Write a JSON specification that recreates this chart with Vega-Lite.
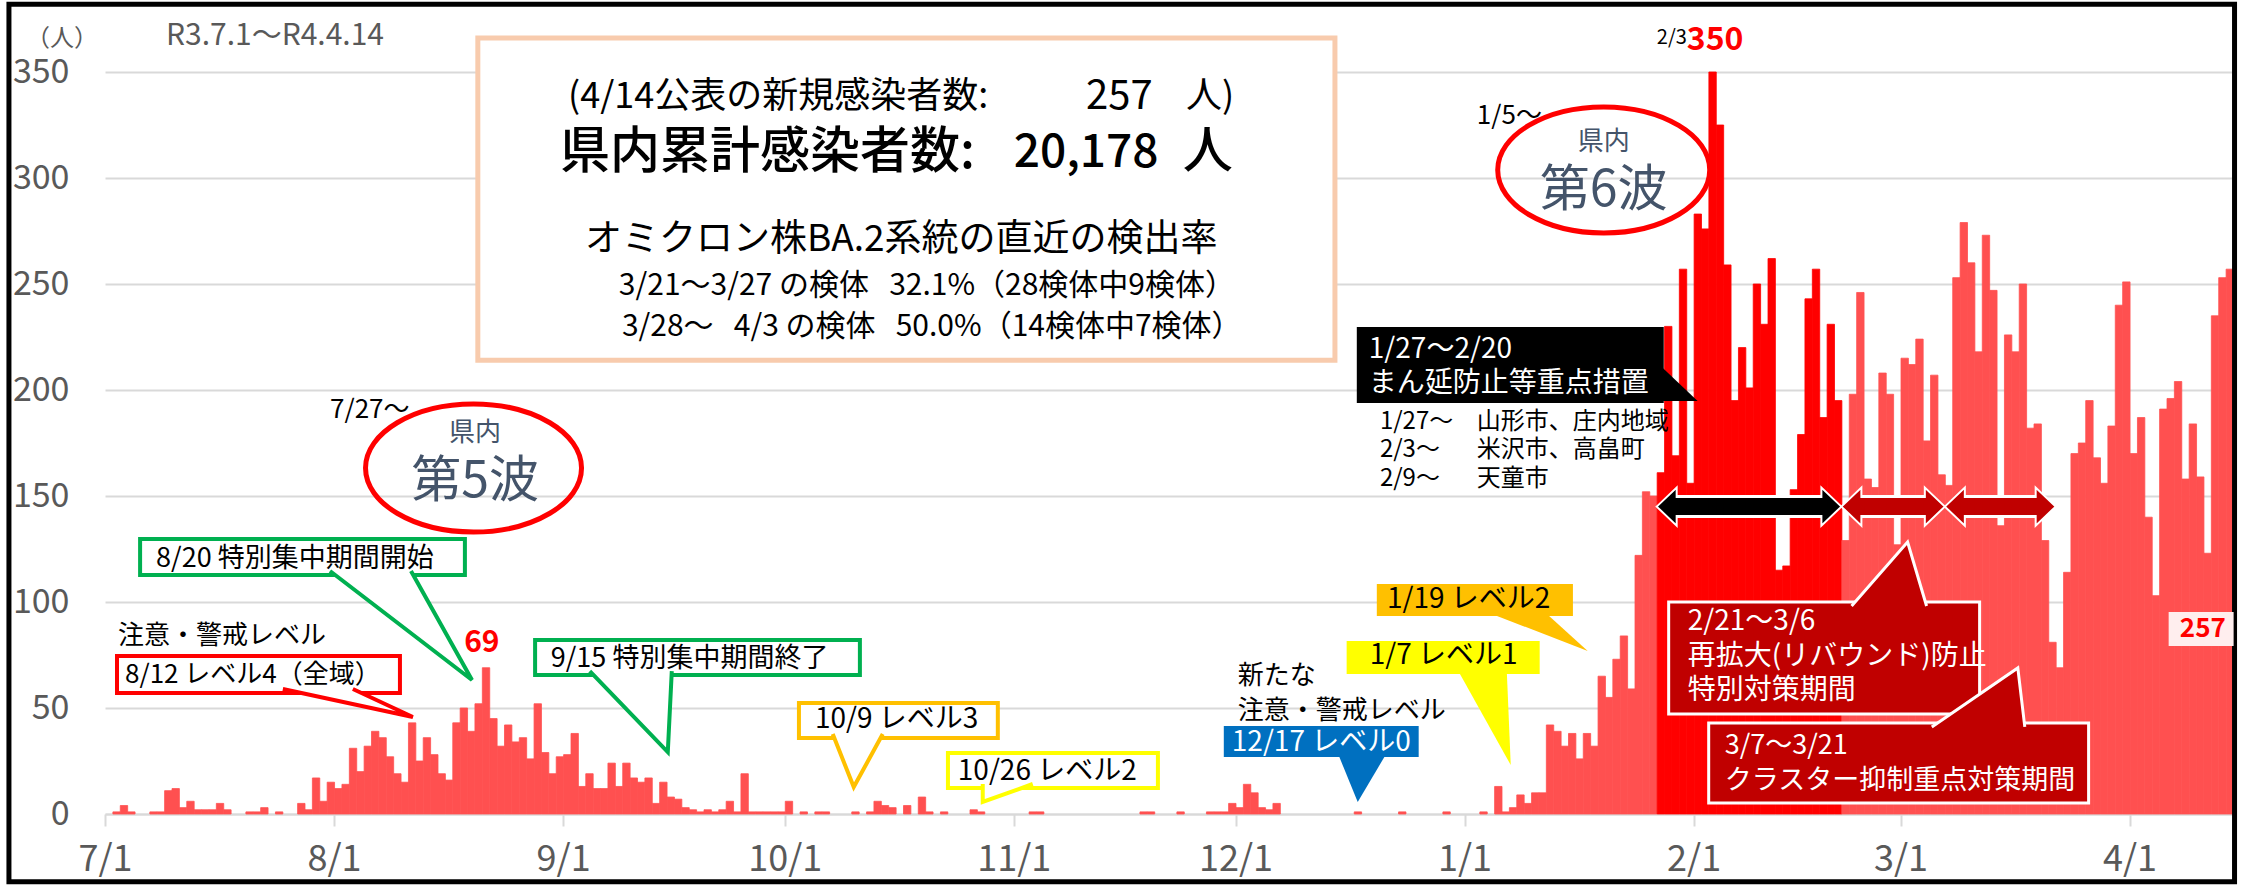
{
  "$schema": "https://vega.github.io/schema/vega-lite/v6.json",
  "width": 2128,
  "height": 742,
  "autosize": {"type": "none"},
  "padding": {"left": 105, "top": 72, "right": 9, "bottom": 73},
  "background": "white",
  "config": {
    "view": {"stroke": null},
    "font": "Noto Sans CJK JP",
    "text": {"font": "Noto Sans CJK JP"}
  },
  "datasets": {
    "cases": [
      {"date":"2021-07-01","cases":0},{"date":"2021-07-02","cases":1},{"date":"2021-07-03","cases":4},{"date":"2021-07-04","cases":1},{"date":"2021-07-05","cases":0},{"date":"2021-07-06","cases":0},{"date":"2021-07-07","cases":1},{"date":"2021-07-08","cases":1},{"date":"2021-07-09","cases":11},{"date":"2021-07-10","cases":12},{"date":"2021-07-11","cases":3},{"date":"2021-07-12","cases":6},{"date":"2021-07-13","cases":2},{"date":"2021-07-14","cases":2},{"date":"2021-07-15","cases":2},{"date":"2021-07-16","cases":5},{"date":"2021-07-17","cases":2},{"date":"2021-07-18","cases":0},{"date":"2021-07-19","cases":0},{"date":"2021-07-20","cases":1},{"date":"2021-07-21","cases":1},{"date":"2021-07-22","cases":3},{"date":"2021-07-23","cases":0},{"date":"2021-07-24","cases":1},{"date":"2021-07-25","cases":0},{"date":"2021-07-26","cases":0},{"date":"2021-07-27","cases":5},{"date":"2021-07-28","cases":2},{"date":"2021-07-29","cases":17},{"date":"2021-07-30","cases":6},{"date":"2021-07-31","cases":15},
      {"date":"2021-08-01","cases":12},{"date":"2021-08-02","cases":14},{"date":"2021-08-03","cases":31},{"date":"2021-08-04","cases":20},{"date":"2021-08-05","cases":32},{"date":"2021-08-06","cases":39},{"date":"2021-08-07","cases":36},{"date":"2021-08-08","cases":27},{"date":"2021-08-09","cases":19},{"date":"2021-08-10","cases":15},{"date":"2021-08-11","cases":43},{"date":"2021-08-12","cases":25},{"date":"2021-08-13","cases":36},{"date":"2021-08-14","cases":28},{"date":"2021-08-15","cases":19},{"date":"2021-08-16","cases":16},{"date":"2021-08-17","cases":43},{"date":"2021-08-18","cases":50},{"date":"2021-08-19","cases":39},{"date":"2021-08-20","cases":52},{"date":"2021-08-21","cases":69},{"date":"2021-08-22","cases":45},{"date":"2021-08-23","cases":32},{"date":"2021-08-24","cases":42},{"date":"2021-08-25","cases":34},{"date":"2021-08-26","cases":36},{"date":"2021-08-27","cases":26},{"date":"2021-08-28","cases":52},{"date":"2021-08-29","cases":29},{"date":"2021-08-30","cases":19},{"date":"2021-08-31","cases":27},
      {"date":"2021-09-01","cases":28},{"date":"2021-09-02","cases":38},{"date":"2021-09-03","cases":13},{"date":"2021-09-04","cases":19},{"date":"2021-09-05","cases":12},{"date":"2021-09-06","cases":12},{"date":"2021-09-07","cases":24},{"date":"2021-09-08","cases":13},{"date":"2021-09-09","cases":24},{"date":"2021-09-10","cases":17},{"date":"2021-09-11","cases":15},{"date":"2021-09-12","cases":17},{"date":"2021-09-13","cases":5},{"date":"2021-09-14","cases":15},{"date":"2021-09-15","cases":8},{"date":"2021-09-16","cases":7},{"date":"2021-09-17","cases":3},{"date":"2021-09-18","cases":2},{"date":"2021-09-19","cases":1},{"date":"2021-09-20","cases":2},{"date":"2021-09-21","cases":1},{"date":"2021-09-22","cases":2},{"date":"2021-09-23","cases":6},{"date":"2021-09-24","cases":1},{"date":"2021-09-25","cases":19},{"date":"2021-09-26","cases":1},{"date":"2021-09-27","cases":1},{"date":"2021-09-28","cases":1},{"date":"2021-09-29","cases":1},{"date":"2021-09-30","cases":1},
      {"date":"2021-10-01","cases":6},{"date":"2021-10-02","cases":0},{"date":"2021-10-03","cases":1},{"date":"2021-10-04","cases":0},{"date":"2021-10-05","cases":1},{"date":"2021-10-06","cases":1},{"date":"2021-10-07","cases":0},{"date":"2021-10-08","cases":0},{"date":"2021-10-09","cases":0},{"date":"2021-10-10","cases":1},{"date":"2021-10-11","cases":0},{"date":"2021-10-12","cases":1},{"date":"2021-10-13","cases":6},{"date":"2021-10-14","cases":4},{"date":"2021-10-15","cases":3},{"date":"2021-10-16","cases":0},{"date":"2021-10-17","cases":4},{"date":"2021-10-18","cases":0},{"date":"2021-10-19","cases":8},{"date":"2021-10-20","cases":1},{"date":"2021-10-21","cases":0},{"date":"2021-10-22","cases":1},{"date":"2021-10-23","cases":0},{"date":"2021-10-24","cases":0},{"date":"2021-10-25","cases":0},{"date":"2021-10-26","cases":2},{"date":"2021-10-27","cases":1},{"date":"2021-10-28","cases":0},{"date":"2021-10-29","cases":0},{"date":"2021-10-30","cases":0},{"date":"2021-10-31","cases":0},
      {"date":"2021-11-01","cases":0},{"date":"2021-11-02","cases":0},{"date":"2021-11-03","cases":1},{"date":"2021-11-04","cases":1},{"date":"2021-11-05","cases":0},{"date":"2021-11-06","cases":0},{"date":"2021-11-07","cases":0},{"date":"2021-11-08","cases":0},{"date":"2021-11-09","cases":0},{"date":"2021-11-10","cases":0},{"date":"2021-11-11","cases":0},{"date":"2021-11-12","cases":0},{"date":"2021-11-13","cases":0},{"date":"2021-11-14","cases":0},{"date":"2021-11-15","cases":0},{"date":"2021-11-16","cases":0},{"date":"2021-11-17","cases":0},{"date":"2021-11-18","cases":1},{"date":"2021-11-19","cases":1},{"date":"2021-11-20","cases":0},{"date":"2021-11-21","cases":0},{"date":"2021-11-22","cases":0},{"date":"2021-11-23","cases":1},{"date":"2021-11-24","cases":0},{"date":"2021-11-25","cases":0},{"date":"2021-11-26","cases":0},{"date":"2021-11-27","cases":1},{"date":"2021-11-28","cases":1},{"date":"2021-11-29","cases":1},{"date":"2021-11-30","cases":5},
      {"date":"2021-12-01","cases":3},{"date":"2021-12-02","cases":14},{"date":"2021-12-03","cases":10},{"date":"2021-12-04","cases":3},{"date":"2021-12-05","cases":2},{"date":"2021-12-06","cases":5},{"date":"2021-12-07","cases":0},{"date":"2021-12-08","cases":0},{"date":"2021-12-09","cases":0},{"date":"2021-12-10","cases":0},{"date":"2021-12-11","cases":0},{"date":"2021-12-12","cases":0},{"date":"2021-12-13","cases":0},{"date":"2021-12-14","cases":0},{"date":"2021-12-15","cases":0},{"date":"2021-12-16","cases":0},{"date":"2021-12-17","cases":1},{"date":"2021-12-18","cases":0},{"date":"2021-12-19","cases":0},{"date":"2021-12-20","cases":0},{"date":"2021-12-21","cases":0},{"date":"2021-12-22","cases":0},{"date":"2021-12-23","cases":1},{"date":"2021-12-24","cases":0},{"date":"2021-12-25","cases":0},{"date":"2021-12-26","cases":0},{"date":"2021-12-27","cases":0},{"date":"2021-12-28","cases":0},{"date":"2021-12-29","cases":1},{"date":"2021-12-30","cases":0},{"date":"2021-12-31","cases":0},
      {"date":"2022-01-01","cases":0},{"date":"2022-01-02","cases":0},{"date":"2022-01-03","cases":1},{"date":"2022-01-04","cases":0},{"date":"2022-01-05","cases":13},{"date":"2022-01-06","cases":1},{"date":"2022-01-07","cases":3},{"date":"2022-01-08","cases":9},{"date":"2022-01-09","cases":5},{"date":"2022-01-10","cases":10},{"date":"2022-01-11","cases":10},{"date":"2022-01-12","cases":42},{"date":"2022-01-13","cases":39},{"date":"2022-01-14","cases":32},{"date":"2022-01-15","cases":38},{"date":"2022-01-16","cases":26},{"date":"2022-01-17","cases":38},{"date":"2022-01-18","cases":32},{"date":"2022-01-19","cases":65},{"date":"2022-01-20","cases":55},{"date":"2022-01-21","cases":73},{"date":"2022-01-22","cases":84},{"date":"2022-01-23","cases":59},{"date":"2022-01-24","cases":122},{"date":"2022-01-25","cases":152},{"date":"2022-01-26","cases":150},{"date":"2022-01-27","cases":161},{"date":"2022-01-28","cases":230},{"date":"2022-01-29","cases":169},{"date":"2022-01-30","cases":257},{"date":"2022-01-31","cases":156},
      {"date":"2022-02-01","cases":283},{"date":"2022-02-02","cases":276},{"date":"2022-02-03","cases":350},{"date":"2022-02-04","cases":325},{"date":"2022-02-05","cases":259},{"date":"2022-02-06","cases":195},{"date":"2022-02-07","cases":220},{"date":"2022-02-08","cases":201},{"date":"2022-02-09","cases":250},{"date":"2022-02-10","cases":231},{"date":"2022-02-11","cases":262},{"date":"2022-02-12","cases":115},{"date":"2022-02-13","cases":117},{"date":"2022-02-14","cases":153},{"date":"2022-02-15","cases":179},{"date":"2022-02-16","cases":243},{"date":"2022-02-17","cases":257},{"date":"2022-02-18","cases":187},{"date":"2022-02-19","cases":231},{"date":"2022-02-20","cases":195},{"date":"2022-02-21","cases":129},{"date":"2022-02-22","cases":198},{"date":"2022-02-23","cases":246},{"date":"2022-02-24","cases":158},{"date":"2022-02-25","cases":154},{"date":"2022-02-26","cases":208},{"date":"2022-02-27","cases":198},{"date":"2022-02-28","cases":127},
      {"date":"2022-03-01","cases":215},{"date":"2022-03-02","cases":212},{"date":"2022-03-03","cases":224},{"date":"2022-03-04","cases":176},{"date":"2022-03-05","cases":207},{"date":"2022-03-06","cases":160},{"date":"2022-03-07","cases":155},{"date":"2022-03-08","cases":253},{"date":"2022-03-09","cases":279},{"date":"2022-03-10","cases":260},{"date":"2022-03-11","cases":218},{"date":"2022-03-12","cases":273},{"date":"2022-03-13","cases":247},{"date":"2022-03-14","cases":136},{"date":"2022-03-15","cases":226},{"date":"2022-03-16","cases":218},{"date":"2022-03-17","cases":250},{"date":"2022-03-18","cases":182},{"date":"2022-03-19","cases":184},{"date":"2022-03-20","cases":129},{"date":"2022-03-21","cases":81},{"date":"2022-03-22","cases":69},{"date":"2022-03-23","cases":114},{"date":"2022-03-24","cases":170},{"date":"2022-03-25","cases":175},{"date":"2022-03-26","cases":195},{"date":"2022-03-27","cases":168},{"date":"2022-03-28","cases":156},{"date":"2022-03-29","cases":183},{"date":"2022-03-30","cases":240},{"date":"2022-03-31","cases":251},
      {"date":"2022-04-01","cases":170},{"date":"2022-04-02","cases":187},{"date":"2022-04-03","cases":140},{"date":"2022-04-04","cases":103},{"date":"2022-04-05","cases":191},{"date":"2022-04-06","cases":196},{"date":"2022-04-07","cases":204},{"date":"2022-04-08","cases":158},{"date":"2022-04-09","cases":184},{"date":"2022-04-10","cases":159},{"date":"2022-04-11","cases":123},{"date":"2022-04-12","cases":235},{"date":"2022-04-13","cases":253},{"date":"2022-04-14","cases":257}
    ],
    "periods": [
      {"name": "まん延防止等重点措置", "start": "2022-01-27", "end": "2022-02-21"},
      {"name": "再拡大(リバウンド)防止特別対策期間", "start": "2022-02-21", "end": "2022-03-07"},
      {"name": "クラスター抑制重点対策期間", "start": "2022-03-07", "end": "2022-03-22"}
    ]
  },
  "layer": [
    {
      "data": {"name": "cases"},
      "transform": [{"filter": "datum.cases > 0"}],
      "mark": {"type": "bar", "binSpacing": 0, "strokeWidth": 0.8},
      "encoding": {
        "x": {
          "field": "date", "type": "temporal", "timeUnit": "utcyearmonthdate",
          "scale": {"type": "utc", "nice": false, "domain": [{"year": 2021, "month": 7, "date": 1, "utc": true}, {"year": 2022, "month": 4, "date": 15, "utc": true}]},
          "axis": {
            "title": null, "labelExpr": "utcFormat(datum.value, '%-m/%-d')",
            "values": [
              {"year": 2021, "month": 7, "date": 1, "utc": true},
              {"year": 2021, "month": 8, "date": 1, "utc": true},
              {"year": 2021, "month": 9, "date": 1, "utc": true},
              {"year": 2021, "month": 10, "date": 1, "utc": true},
              {"year": 2021, "month": 11, "date": 1, "utc": true},
              {"year": 2021, "month": 12, "date": 1, "utc": true},
              {"year": 2022, "month": 1, "date": 1, "utc": true},
              {"year": 2022, "month": 2, "date": 1, "utc": true},
              {"year": 2022, "month": 3, "date": 1, "utc": true},
              {"year": 2022, "month": 4, "date": 1, "utc": true}
            ],
            "grid": false, "domainColor": "#D9D9D9", "domainWidth": 2,
            "tickColor": "#D9D9D9", "tickWidth": 2, "tickSize": 12,
            "labelFont": "Noto Sans CJK JP", "labelFontSize": 36, "labelColor": "#595959",
            "labelPadding": 16, "labelFlush": false, "labelOverlap": false, "labelBound": false, "labelLimit": 0
          }
        },
        "y": {
          "field": "cases", "type": "quantitative",
          "scale": {"domain": [0, 350], "nice": false},
          "axis": {
            "title": null, "values": [0, 50, 100, 150, 200, 250, 300, 350],
            "domain": false, "ticks": false, "grid": true, "gridColor": "#D9D9D9", "gridWidth": 2,
            "labelFont": "Noto Sans CJK JP", "labelFontSize": 34, "labelColor": "#595959",
            "labelPadding": 36, "labelFlush": false
          }
        },
        "color": {
          "condition": {"test": "time(datum.date) >= utc(2022,0,27) && time(datum.date) < utc(2022,1,21)", "value": "#FF0000"},
          "value": "#FF5050"
        },
        "stroke": {
          "condition": {"test": "time(datum.date) >= utc(2022,0,27) && time(datum.date) < utc(2022,1,21)", "value": "#FF0000"},
          "value": "#FF5050"
        }
      }
    },
    {
      "data": {"values": [{}]},
      "mark": {"type": "rect", "filled": false, "stroke": "black", "strokeWidth": 5},
      "encoding": {
        "x": {"datum": {"year": 2021, "month": 6, "date": 18, "utc": true}, "type": "temporal"},
        "x2": {"datum": {"year": 2022, "month": 4, "date": 15, "hours": 5, "utc": true}},
        "y": {"datum": 382, "type": "quantitative"},
        "y2": {"datum": -32}
      }
    },
    {
      "data": {"name": "periods"},
      "layer": [
        {
          "mark": {"type": "rule", "color": "white", "strokeWidth": 23, "xOffset": 17, "x2Offset": -17},
          "encoding": {
            "x": {"field": "start", "type": "temporal"},
            "x2": {"field": "end"},
            "y": {"datum": 145, "type": "quantitative"}
          }
        },
        {
          "mark": {"type": "point", "shape": "M0,0L20,-19L20,19Z", "size": 4, "filled": true, "stroke": "white", "strokeWidth": 2, "opacity": 1},
          "encoding": {
            "x": {"field": "start", "type": "temporal"},
            "y": {"datum": 145, "type": "quantitative"},
            "color": {"field": "name", "type": "nominal", "legend": null, "scale": {"domain": ["まん延防止等重点措置", "再拡大(リバウンド)防止特別対策期間", "クラスター抑制重点対策期間"], "range": ["#000000", "#C00000", "#C00000"]}}
          }
        },
        {
          "mark": {"type": "point", "shape": "M0,0L-20,-19L-20,19Z", "size": 4, "filled": true, "stroke": "white", "strokeWidth": 2, "opacity": 1},
          "encoding": {
            "x": {"field": "end", "type": "temporal"},
            "y": {"datum": 145, "type": "quantitative"},
            "color": {"field": "name", "type": "nominal", "legend": null}
          }
        },
        {
          "mark": {"type": "rule", "strokeWidth": 17, "xOffset": 15, "x2Offset": -15},
          "encoding": {
            "x": {"field": "start", "type": "temporal"},
            "x2": {"field": "end"},
            "y": {"datum": 145, "type": "quantitative"},
            "color": {"field": "name", "type": "nominal", "legend": null}
          }
        }
      ]
    },
    {
      "data": {"values": [{}]},
      "layer": [
        {"mark": {"type": "text", "text": "（人）", "fontSize": 24, "color": "#595959"},
         "encoding": {"x": {"datum": {"year": 2021, "month": 6, "date": 25, "hours": 4, "utc": true}, "type": "temporal"}, "y": {"datum": 365.5, "type": "quantitative"}}},
        {"mark": {"type": "text", "text": "R3.7.1～R4.4.14", "fontSize": 30, "color": "#595959", "align": "left"},
         "encoding": {"x": {"datum": {"year": 2021, "month": 7, "date": 9, "hours": 6, "utc": true}, "type": "temporal"}, "y": {"datum": 367, "type": "quantitative"}}},

        {"mark": {"type": "rect", "fill": "white", "stroke": "#F8CBAD", "strokeWidth": 5},
         "encoding": {"x": {"datum": {"year": 2021, "month": 8, "date": 20, "hours": 11, "utc": true}, "type": "temporal"}, "x2": {"datum": {"year": 2021, "month": 12, "date": 14, "hours": 11, "utc": true}}, "y": {"datum": 366, "type": "quantitative"}, "y2": {"datum": 214}}},
        {"mark": {"type": "text", "text": "(4/14公表の新規感染者数:", "fontSize": 36, "align": "left", "color": "black"},
         "encoding": {"x": {"datum": {"year": 2021, "month": 9, "date": 1, "hours": 16, "utc": true}, "type": "temporal"}, "y": {"datum": 338.2, "type": "quantitative"}}},
        {"mark": {"type": "text", "text": "257", "fontSize": 40, "align": "right", "color": "black"},
         "encoding": {"x": {"datum": {"year": 2021, "month": 11, "date": 19, "hours": 19, "utc": true}, "type": "temporal"}, "y": {"datum": 338.2, "type": "quantitative"}}},
        {"mark": {"type": "text", "text": "人)", "fontSize": 36, "align": "left", "color": "black"},
         "encoding": {"x": {"datum": {"year": 2021, "month": 11, "date": 24, "hours": 7, "utc": true}, "type": "temporal"}, "y": {"datum": 338.2, "type": "quantitative"}}},
        {"mark": {"type": "text", "text": "県内累計感染者数:", "fontSize": 50, "fontWeight": 500, "align": "left", "color": "black"},
         "encoding": {"x": {"datum": {"year": 2021, "month": 8, "date": 31, "hours": 14, "utc": true}, "type": "temporal"}, "y": {"datum": 311.8, "type": "quantitative"}}},
        {"mark": {"type": "text", "text": "20,178", "fontSize": 46, "fontWeight": 500, "align": "right", "color": "black"},
         "encoding": {"x": {"datum": {"year": 2021, "month": 11, "date": 20, "hours": 14, "utc": true}, "type": "temporal"}, "y": {"datum": 311.8, "type": "quantitative"}}},
        {"mark": {"type": "text", "text": "人", "fontSize": 50, "fontWeight": 500, "align": "left", "color": "black"},
         "encoding": {"x": {"datum": {"year": 2021, "month": 11, "date": 23, "hours": 21, "utc": true}, "type": "temporal"}, "y": {"datum": 311.8, "type": "quantitative"}}},
        {"mark": {"type": "text", "text": "オミクロン株BA.2系統の直近の検出率", "fontSize": 37, "align": "left", "color": "black"},
         "encoding": {"x": {"datum": {"year": 2021, "month": 9, "date": 3, "hours": 23, "utc": true}, "type": "temporal"}, "y": {"datum": 270.8, "type": "quantitative"}}},
        {"mark": {"type": "text", "text": "3/21～3/27 の検体\u00a0\u00a0\u00a032.1%（28検体中9検体）", "fontSize": 30, "align": "left", "color": "black"},
         "encoding": {"x": {"datum": {"year": 2021, "month": 9, "date": 8, "hours": 13, "utc": true}, "type": "temporal"}, "y": {"datum": 249.1, "type": "quantitative"}}},
        {"mark": {"type": "text", "text": "3/28～\u00a0\u00a0\u00a04/3 の検体\u00a0\u00a0\u00a050.0%（14検体中7検体）", "fontSize": 30, "align": "left", "color": "black"},
         "encoding": {"x": {"datum": {"year": 2021, "month": 9, "date": 8, "hours": 23, "utc": true}, "type": "temporal"}, "y": {"datum": 229.7, "type": "quantitative"}}},

        {"mark": {"type": "text", "text": "7/27～", "fontSize": 26, "align": "left", "color": "black"},
         "encoding": {"x": {"datum": {"year": 2021, "month": 7, "date": 31, "hours": 11, "utc": true}, "type": "temporal"}, "y": {"datum": 190.6, "type": "quantitative"}}},
        {"mark": {"type": "point", "shape": "M-108,0A108,64,0,1,0,108,0A108,64,0,1,0,-108,0Z", "size": 4, "filled": false, "stroke": "#FF0000", "strokeWidth": 5, "opacity": 1},
         "encoding": {"x": {"datum": {"year": 2021, "month": 8, "date": 19, "hours": 21, "utc": true}, "type": "temporal"}, "y": {"datum": 163.2, "type": "quantitative"}}},
        {"mark": {"type": "text", "text": "県内", "fontSize": 26, "color": "#44546A"},
         "encoding": {"x": {"datum": {"year": 2021, "month": 8, "date": 20, "hours": 2, "utc": true}, "type": "temporal"}, "y": {"datum": 179.5, "type": "quantitative"}}},
        {"mark": {"type": "text", "text": "第5波", "fontSize": 50, "color": "#44546A"},
         "encoding": {"x": {"datum": {"year": 2021, "month": 8, "date": 20, "hours": 2, "utc": true}, "type": "temporal"}, "y": {"datum": 156.5, "type": "quantitative"}}},

        {"mark": {"type": "rect", "fill": "white", "stroke": "#00B050", "strokeWidth": 4},
         "encoding": {"x": {"datum": {"year": 2021, "month": 7, "date": 5, "hours": 18, "utc": true}, "type": "temporal"}, "x2": {"datum": {"year": 2021, "month": 8, "date": 18, "hours": 17, "utc": true}}, "y": {"datum": 129.7, "type": "quantitative"}, "y2": {"datum": 112.7}}},
        {"mark": {"type": "point", "shape": "M-142,-109L0,0L-61,-109", "size": 4, "filled": true, "fill": "white", "stroke": "#00B050", "strokeWidth": 4, "opacity": 1},
         "encoding": {"x": {"datum": {"year": 2021, "month": 8, "date": 19, "hours": 16, "utc": true}, "type": "temporal"}, "y": {"datum": 63.2, "type": "quantitative"}}},
        {"mark": {"type": "text", "text": "8/20 特別集中期間開始", "fontSize": 27, "align": "left", "color": "black"},
         "encoding": {"x": {"datum": {"year": 2021, "month": 7, "date": 7, "hours": 22, "utc": true}, "type": "temporal"}, "y": {"datum": 120.3, "type": "quantitative"}}},

        {"mark": {"type": "text", "text": "注意・警戒レベル", "fontSize": 26, "align": "left", "color": "black"},
         "encoding": {"x": {"datum": {"year": 2021, "month": 7, "date": 2, "hours": 18, "utc": true}, "type": "temporal"}, "y": {"datum": 84, "type": "quantitative"}}},
        {"mark": {"type": "rect", "fill": "white", "stroke": "#FF0000", "strokeWidth": 4},
         "encoding": {"x": {"datum": {"year": 2021, "month": 7, "date": 2, "hours": 15, "utc": true}, "type": "temporal"}, "x2": {"datum": {"year": 2021, "month": 8, "date": 9, "hours": 22, "utc": true}}, "y": {"datum": 74.5, "type": "quantitative"}, "y2": {"datum": 57.1}}},
        {"mark": {"type": "point", "shape": "M-130,-28L0,0L-60,-28", "size": 4, "filled": true, "fill": "white", "stroke": "#FF0000", "strokeWidth": 4, "opacity": 1},
         "encoding": {"x": {"datum": {"year": 2021, "month": 8, "date": 11, "hours": 16, "utc": true}, "type": "temporal"}, "y": {"datum": 45.75, "type": "quantitative"}}},
        {"mark": {"type": "text", "text": "8/12 レベル4（全域）", "fontSize": 26, "align": "left", "color": "black"},
         "encoding": {"x": {"datum": {"year": 2021, "month": 7, "date": 3, "hours": 17, "utc": true}, "type": "temporal"}, "y": {"datum": 65.6, "type": "quantitative"}}},
        {"mark": {"type": "text", "text": "69", "fontSize": 30, "fontWeight": "bold", "color": "#FF0000"},
         "encoding": {"x": {"datum": {"year": 2021, "month": 8, "date": 21, "utc": true}, "type": "temporal"}, "y": {"datum": 80.7, "type": "quantitative"}}},

        {"mark": {"type": "rect", "fill": "white", "stroke": "#00B050", "strokeWidth": 4},
         "encoding": {"x": {"datum": {"year": 2021, "month": 8, "date": 28, "hours": 5, "utc": true}, "type": "temporal"}, "x2": {"datum": {"year": 2021, "month": 10, "date": 11, "hours": 4, "utc": true}}, "y": {"datum": 82.1, "type": "quantitative"}, "y2": {"datum": 65.6}}},
        {"mark": {"type": "point", "shape": "M-78,-81L0,0L4,-81", "size": 4, "filled": true, "fill": "white", "stroke": "#00B050", "strokeWidth": 4, "opacity": 1},
         "encoding": {"x": {"datum": {"year": 2021, "month": 9, "date": 15, "hours": 4, "utc": true}, "type": "temporal"}, "y": {"datum": 29.2, "type": "quantitative"}}},
        {"mark": {"type": "text", "text": "9/15 特別集中期間終了", "fontSize": 27, "align": "left", "color": "black"},
         "encoding": {"x": {"datum": {"year": 2021, "month": 8, "date": 30, "hours": 8, "utc": true}, "type": "temporal"}, "y": {"datum": 73.1, "type": "quantitative"}}},

        {"mark": {"type": "rect", "fill": "white", "stroke": "#FFC000", "strokeWidth": 4},
         "encoding": {"x": {"datum": {"year": 2021, "month": 10, "date": 2, "hours": 22, "utc": true}, "type": "temporal"}, "x2": {"datum": {"year": 2021, "month": 10, "date": 29, "hours": 20, "utc": true}}, "y": {"datum": 52.4, "type": "quantitative"}, "y2": {"datum": 35.8}}},
        {"mark": {"type": "point", "shape": "M-21,-53L0,0L29,-53", "size": 4, "filled": true, "fill": "white", "stroke": "#FFC000", "strokeWidth": 4, "opacity": 1},
         "encoding": {"x": {"datum": {"year": 2021, "month": 10, "date": 10, "hours": 8, "utc": true}, "type": "temporal"}, "y": {"datum": 12.7, "type": "quantitative"}}},
        {"mark": {"type": "text", "text": "10/9 レベル3", "fontSize": 28, "align": "left", "color": "black"},
         "encoding": {"x": {"datum": {"year": 2021, "month": 10, "date": 5, "hours": 2, "utc": true}, "type": "temporal"}, "y": {"datum": 44.3, "type": "quantitative"}}},

        {"mark": {"type": "rect", "fill": "white", "stroke": "#FFFF00", "strokeWidth": 4},
         "encoding": {"x": {"datum": {"year": 2021, "month": 10, "date": 23, "hours": 2, "utc": true}, "type": "temporal"}, "x2": {"datum": {"year": 2021, "month": 11, "date": 20, "hours": 12, "utc": true}}, "y": {"datum": 28.8, "type": "quantitative"}, "y2": {"datum": 12.3}}},
        {"mark": {"type": "point", "shape": "M0,-18L0,0L50,-18", "size": 4, "filled": true, "fill": "white", "stroke": "#FFFF00", "strokeWidth": 4, "opacity": 1},
         "encoding": {"x": {"datum": {"year": 2021, "month": 10, "date": 27, "hours": 19, "utc": true}, "type": "temporal"}, "y": {"datum": 5.66, "type": "quantitative"}}},
        {"mark": {"type": "text", "text": "10/26 レベル2", "fontSize": 28, "align": "left", "color": "black"},
         "encoding": {"x": {"datum": {"year": 2021, "month": 10, "date": 24, "hours": 10, "utc": true}, "type": "temporal"}, "y": {"datum": 19.8, "type": "quantitative"}}},

        {"mark": {"type": "text", "text": "新たな", "fontSize": 26, "align": "left", "color": "black"},
         "encoding": {"x": {"datum": {"year": 2021, "month": 12, "date": 1, "hours": 7, "utc": true}, "type": "temporal"}, "y": {"datum": 65.1, "type": "quantitative"}}},
        {"mark": {"type": "text", "text": "注意・警戒レベル", "fontSize": 26, "align": "left", "color": "black"},
         "encoding": {"x": {"datum": {"year": 2021, "month": 12, "date": 1, "hours": 7, "utc": true}, "type": "temporal"}, "y": {"datum": 48.8, "type": "quantitative"}}},
        {"mark": {"type": "rect", "fill": "#0070C0"},
         "encoding": {"x": {"datum": {"year": 2021, "month": 11, "date": 29, "hours": 10, "utc": true}, "type": "temporal"}, "x2": {"datum": {"year": 2021, "month": 12, "date": 25, "hours": 19, "utc": true}}, "y": {"datum": 41.5, "type": "quantitative"}, "y2": {"datum": 26.9}}},
        {"mark": {"type": "point", "shape": "M-20,-49L0,0L29,-49Z", "size": 4, "filled": true, "fill": "#0070C0", "strokeWidth": 0, "opacity": 1},
         "encoding": {"x": {"datum": {"year": 2021, "month": 12, "date": 17, "hours": 13, "utc": true}, "type": "temporal"}, "y": {"datum": 5.66, "type": "quantitative"}}},
        {"mark": {"type": "text", "text": "12/17 レベル0", "fontSize": 28, "align": "left", "color": "white"},
         "encoding": {"x": {"datum": {"year": 2021, "month": 11, "date": 30, "hours": 12, "utc": true}, "type": "temporal"}, "y": {"datum": 33.7, "type": "quantitative"}}},

        {"mark": {"type": "rect", "fill": "#FFFF00"},
         "encoding": {"x": {"datum": {"year": 2021, "month": 12, "date": 16, "hours": 1, "utc": true}, "type": "temporal"}, "x2": {"datum": {"year": 2022, "month": 1, "date": 11, "hours": 4, "utc": true}}, "y": {"datum": 81.6, "type": "quantitative"}, "y2": {"datum": 66.0}}},
        {"mark": {"type": "point", "shape": "M-53,-95L0,0L-4,-95Z", "size": 4, "filled": true, "fill": "#FFFF00", "strokeWidth": 0, "opacity": 1},
         "encoding": {"x": {"datum": {"year": 2022, "month": 1, "date": 7, "hours": 6, "utc": true}, "type": "temporal"}, "y": {"datum": 23.1, "type": "quantitative"}}},
        {"mark": {"type": "text", "text": "1/7 レベル1", "fontSize": 28, "align": "left", "color": "black"},
         "encoding": {"x": {"datum": {"year": 2021, "month": 12, "date": 19, "hours": 4, "utc": true}, "type": "temporal"}, "y": {"datum": 74.5, "type": "quantitative"}}},

        {"mark": {"type": "rect", "fill": "#FFC000"},
         "encoding": {"x": {"datum": {"year": 2021, "month": 12, "date": 20, "hours": 3, "utc": true}, "type": "temporal"}, "x2": {"datum": {"year": 2022, "month": 1, "date": 15, "hours": 16, "utc": true}}, "y": {"datum": 108.5, "type": "quantitative"}, "y2": {"datum": 93.4}}},
        {"mark": {"type": "point", "shape": "M-101,-39L0,0L-43,-39Z", "size": 4, "filled": true, "fill": "#FFC000", "strokeWidth": 0, "opacity": 1},
         "encoding": {"x": {"datum": {"year": 2022, "month": 1, "date": 17, "hours": 16, "utc": true}, "type": "temporal"}, "y": {"datum": 76.9, "type": "quantitative"}}},
        {"mark": {"type": "text", "text": "1/19 レベル2", "fontSize": 28, "align": "left", "color": "black"},
         "encoding": {"x": {"datum": {"year": 2021, "month": 12, "date": 21, "hours": 12, "utc": true}, "type": "temporal"}, "y": {"datum": 100.9, "type": "quantitative"}}},

        {"mark": {"type": "rect", "fill": "#000000"},
         "encoding": {"x": {"datum": {"year": 2021, "month": 12, "date": 17, "hours": 10, "utc": true}, "type": "temporal"}, "x2": {"datum": {"year": 2022, "month": 1, "date": 27, "hours": 23, "utc": true}}, "y": {"datum": 229.7, "type": "quantitative"}, "y2": {"datum": 193.9}}},
        {"mark": {"type": "point", "shape": "M-38,-36L0,0L-38,0Z", "size": 4, "filled": true, "fill": "#000000", "strokeWidth": 0, "opacity": 1},
         "encoding": {"x": {"datum": {"year": 2022, "month": 2, "date": 1, "hours": 13, "utc": true}, "type": "temporal"}, "y": {"datum": 194.8, "type": "quantitative"}}},
        {"mark": {"type": "text", "text": "1/27～2/20", "fontSize": 28, "align": "left", "color": "white"},
         "encoding": {"x": {"datum": {"year": 2021, "month": 12, "date": 19, "hours": 1, "utc": true}, "type": "temporal"}, "y": {"datum": 218.9, "type": "quantitative"}}},
        {"mark": {"type": "text", "text": "まん延防止等重点措置", "fontSize": 28, "align": "left", "color": "white"},
         "encoding": {"x": {"datum": {"year": 2021, "month": 12, "date": 19, "hours": 1, "utc": true}, "type": "temporal"}, "y": {"datum": 202.8, "type": "quantitative"}}},
        {"mark": {"type": "text", "text": "1/27～", "fontSize": 24, "align": "left", "color": "black"},
         "encoding": {"x": {"datum": {"year": 2021, "month": 12, "date": 20, "hours": 13, "utc": true}, "type": "temporal"}, "y": {"datum": 184.9, "type": "quantitative"}}},
        {"mark": {"type": "text", "text": "2/3～", "fontSize": 24, "align": "left", "color": "black"},
         "encoding": {"x": {"datum": {"year": 2021, "month": 12, "date": 20, "hours": 13, "utc": true}, "type": "temporal"}, "y": {"datum": 171.7, "type": "quantitative"}}},
        {"mark": {"type": "text", "text": "2/9～", "fontSize": 24, "align": "left", "color": "black"},
         "encoding": {"x": {"datum": {"year": 2021, "month": 12, "date": 20, "hours": 13, "utc": true}, "type": "temporal"}, "y": {"datum": 158.0, "type": "quantitative"}}},
        {"mark": {"type": "text", "text": "山形市、庄内地域", "fontSize": 24, "align": "left", "color": "black"},
         "encoding": {"x": {"datum": {"year": 2022, "month": 1, "date": 2, "hours": 16, "utc": true}, "type": "temporal"}, "y": {"datum": 184.9, "type": "quantitative"}}},
        {"mark": {"type": "text", "text": "米沢市、高畠町", "fontSize": 24, "align": "left", "color": "black"},
         "encoding": {"x": {"datum": {"year": 2022, "month": 1, "date": 2, "hours": 16, "utc": true}, "type": "temporal"}, "y": {"datum": 171.7, "type": "quantitative"}}},
        {"mark": {"type": "text", "text": "天童市", "fontSize": 24, "align": "left", "color": "black"},
         "encoding": {"x": {"datum": {"year": 2022, "month": 1, "date": 2, "hours": 16, "utc": true}, "type": "temporal"}, "y": {"datum": 158.0, "type": "quantitative"}}},

        {"mark": {"type": "text", "text": "1/5～", "fontSize": 26, "align": "left", "color": "black"},
         "encoding": {"x": {"datum": {"year": 2022, "month": 1, "date": 2, "hours": 16, "utc": true}, "type": "temporal"}, "y": {"datum": 329.2, "type": "quantitative"}}},
        {"mark": {"type": "point", "shape": "M-106,0A106,63,0,1,0,106,0A106,63,0,1,0,-106,0Z", "size": 4, "filled": false, "stroke": "#FF0000", "strokeWidth": 5, "opacity": 1},
         "encoding": {"x": {"datum": {"year": 2022, "month": 1, "date": 19, "hours": 20, "utc": true}, "type": "temporal"}, "y": {"datum": 303.8, "type": "quantitative"}}},
        {"mark": {"type": "text", "text": "県内", "fontSize": 26, "color": "#44546A"},
         "encoding": {"x": {"datum": {"year": 2022, "month": 1, "date": 19, "hours": 20, "utc": true}, "type": "temporal"}, "y": {"datum": 317, "type": "quantitative"}}},
        {"mark": {"type": "text", "text": "第6波", "fontSize": 50, "color": "#44546A"},
         "encoding": {"x": {"datum": {"year": 2022, "month": 1, "date": 19, "hours": 20, "utc": true}, "type": "temporal"}, "y": {"datum": 294, "type": "quantitative"}}},

        {"mark": {"type": "text", "text": "2/3", "fontSize": 20, "align": "right", "color": "black"},
         "encoding": {"x": {"datum": {"year": 2022, "month": 1, "date": 31, "hours": 2, "utc": true}, "type": "temporal"}, "y": {"datum": 366, "type": "quantitative"}}},
        {"mark": {"type": "text", "text": "350", "fontSize": 32, "fontWeight": "bold", "align": "left", "color": "#FF0000"},
         "encoding": {"x": {"datum": {"year": 2022, "month": 1, "date": 31, "hours": 2, "utc": true}, "type": "temporal"}, "y": {"datum": 365, "type": "quantitative"}}},

        {"mark": {"type": "rect", "fill": "#C00000", "stroke": "white", "strokeWidth": 3},
         "encoding": {"x": {"datum": {"year": 2022, "month": 1, "date": 28, "hours": 15, "utc": true}, "type": "temporal"}, "x2": {"datum": {"year": 2022, "month": 3, "date": 11, "hours": 17, "utc": true}}, "y": {"datum": 100, "type": "quantitative"}, "y2": {"datum": 47.2}}},
        {"mark": {"type": "point", "shape": "M-56,64L0,0L19,64", "size": 4, "filled": true, "fill": "#C00000", "stroke": "white", "strokeWidth": 3, "opacity": 1},
         "encoding": {"x": {"datum": {"year": 2022, "month": 3, "date": 1, "hours": 23, "utc": true}, "type": "temporal"}, "y": {"datum": 128.3, "type": "quantitative"}}},
        {"mark": {"type": "text", "text": "2/21～3/6", "fontSize": 28, "align": "left", "color": "white"},
         "encoding": {"x": {"datum": {"year": 2022, "month": 1, "date": 31, "hours": 5, "utc": true}, "type": "temporal"}, "y": {"datum": 90.6, "type": "quantitative"}}},
        {"mark": {"type": "text", "text": "再拡大(リバウンド)防止", "fontSize": 28, "align": "left", "color": "white"},
         "encoding": {"x": {"datum": {"year": 2022, "month": 1, "date": 31, "hours": 5, "utc": true}, "type": "temporal"}, "y": {"datum": 74.1, "type": "quantitative"}}},
        {"mark": {"type": "text", "text": "特別対策期間", "fontSize": 28, "align": "left", "color": "white"},
         "encoding": {"x": {"datum": {"year": 2022, "month": 1, "date": 31, "hours": 5, "utc": true}, "type": "temporal"}, "y": {"datum": 58.0, "type": "quantitative"}}},

        {"mark": {"type": "rect", "fill": "#C00000", "stroke": "white", "strokeWidth": 3},
         "encoding": {"x": {"datum": {"year": 2022, "month": 2, "date": 3, "hours": 1, "utc": true}, "type": "temporal"}, "x2": {"datum": {"year": 2022, "month": 3, "date": 26, "hours": 11, "utc": true}}, "y": {"datum": 42.9, "type": "quantitative"}, "y2": {"datum": 5.2}}},
        {"mark": {"type": "point", "shape": "M-86,59L0,0L7,59", "size": 4, "filled": true, "fill": "#C00000", "stroke": "white", "strokeWidth": 3, "opacity": 1},
         "encoding": {"x": {"datum": {"year": 2022, "month": 3, "date": 16, "hours": 21, "utc": true}, "type": "temporal"}, "y": {"datum": 68.9, "type": "quantitative"}}},
        {"mark": {"type": "text", "text": "3/7～3/21", "fontSize": 27, "align": "left", "color": "white"},
         "encoding": {"x": {"datum": {"year": 2022, "month": 2, "date": 5, "hours": 5, "utc": true}, "type": "temporal"}, "y": {"datum": 32.1, "type": "quantitative"}}},
        {"mark": {"type": "text", "text": "クラスター抑制重点対策期間", "fontSize": 27, "align": "left", "color": "white"},
         "encoding": {"x": {"datum": {"year": 2022, "month": 2, "date": 5, "hours": 5, "utc": true}, "type": "temporal"}, "y": {"datum": 15.6, "type": "quantitative"}}},

        {"mark": {"type": "rect", "fill": "#FFEEEE"},
         "encoding": {"x": {"datum": {"year": 2022, "month": 4, "date": 6, "hours": 7, "utc": true}, "type": "temporal"}, "x2": {"datum": {"year": 2022, "month": 4, "date": 15, "hours": 2, "utc": true}}, "y": {"datum": 95.3, "type": "quantitative"}, "y2": {"datum": 79.2}}},
        {"mark": {"type": "text", "text": "257", "fontSize": 26, "fontWeight": "bold", "color": "#FF0000"},
         "encoding": {"x": {"datum": {"year": 2022, "month": 4, "date": 10, "hours": 22, "utc": true}, "type": "temporal"}, "y": {"datum": 87.3, "type": "quantitative"}}}
      ]
    }
  ]
}
